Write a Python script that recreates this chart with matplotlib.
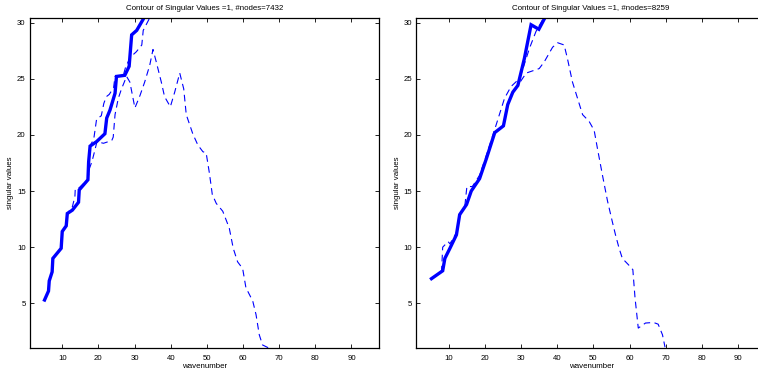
import matplotlib
matplotlib.use('Agg')
import matplotlib.pyplot as plt

plt.rcParams['font.family'] = ['Liberation Sans', 'DejaVu Sans']

#---------------------- data -------------------------#

titles = ['Contour of Singular Values =1, #nodes=7432',
          'Contour of Singular Values =1, #nodes=8259']
x_ticks = [10, 20, 30, 40, 50, 60, 70, 80, 90]
y_ticks = [5, 10, 15, 20, 25, 30]

# left panel (7432 nodes)
left_solid_x = [5.1, 6.2, 6.4, 7.2, 7.4, 9.7, 10.0, 11.1, 11.4, 12.8, 14.5, 14.7, 17.1,
                17.3, 17.7, 19.5, 21.8, 22.3, 23.2, 24.6, 25.0, 27.3, 28.5, 29.2, 30.6,
                32.4, 33.0]
left_solid_y = [5.3, 6.1, 7.0, 7.8, 9.0, 9.9, 11.4, 11.9, 13.0, 13.3, 14.0, 15.1, 16.0,
                17.6, 19.0, 19.4, 20.1, 21.5, 22.2, 23.7, 25.2, 25.3, 26.1, 28.9, 29.3,
                30.3, 30.8]

left_dash_a_x = [5.1, 6.2, 6.4, 7.2, 7.4, 9.7, 10.0, 11.1, 11.4, 12.8, 13.5, 13.6, 14.7,
                 17.0, 17.3, 17.8, 18.7, 19.5, 20.8, 21.5, 22.2, 23.0, 24.2, 24.6, 26.8,
                 27.5, 28.8, 30.5, 32.0, 32.4, 34.5]
left_dash_a_y = [5.3, 6.1, 7.0, 7.8, 9.0, 9.9, 11.4, 11.9, 13.0, 13.6, 14.5, 15.2, 15.3,
                 16.0, 17.6, 19.1, 19.6, 21.4, 21.7, 22.8, 23.4, 23.6, 24.2, 25.2, 25.2,
                 26.0, 26.9, 27.4, 28.0, 29.3, 30.6]

left_dash_b_x = [5.1, 6.2, 6.4, 7.2, 7.4, 9.7, 10.0, 11.1, 11.4, 12.8, 14.5, 14.7, 17.1,
                 17.5, 18.2, 19.0, 19.6, 21.4, 23.7, 24.1, 24.6, 25.5, 26.4, 27.8, 28.7,
                 30.1, 31.5, 32.8, 34.2, 35.1, 36.0, 37.4, 38.3, 39.9, 41.1, 42.5, 43.6,
                 44.3, 46.1, 47.5, 48.9, 49.8, 50.7, 51.5, 52.6, 54.4, 56.2, 57.3, 58.5,
                 59.9, 60.8, 62.7, 63.6, 64.5, 65.4, 67.3]
left_dash_b_y = [5.3, 6.1, 7.0, 7.8, 9.0, 9.9, 11.4, 11.9, 13.0, 13.3, 14.0, 15.1, 16.0,
                 17.0, 17.6, 18.6, 19.4, 19.25, 19.5, 19.8, 21.8, 23.25, 24.1, 25.2, 24.7,
                 22.4, 23.5, 24.7, 26.2, 27.6, 26.5, 24.7, 23.4, 22.5, 23.8, 25.5, 24.1,
                 21.8, 20.1, 19.1, 18.5, 18.4, 16.6, 14.7, 13.9, 13.2, 11.7, 9.9, 8.7,
                 8.1, 6.4, 5.2, 4.0, 2.2, 1.3, 1.0]

# right panel (8259 nodes)
right_solid_x = [5.2, 8.3, 8.9, 10.3, 12.1, 13.0, 14.9, 16.2, 18.5, 20.4, 22.7, 25.1,
                 26.3, 27.7, 29.1, 30.9, 32.75, 34.9, 36.7]
right_solid_y = [7.2, 7.9, 9.0, 9.9, 11.1, 12.9, 13.8, 15.0, 16.1, 17.9, 20.2, 20.8,
                 22.7, 23.8, 24.4, 26.8, 29.8, 29.4, 30.5]

right_dash_a_x = [5.2, 8.0, 8.3, 9.8, 10.3, 12.1, 13.0, 14.4, 15.0, 16.5, 18.5, 20.4,
                  23.1, 25.4, 27.2, 29.5, 30.5, 32.3, 34.1, 36.4]
right_dash_a_y = [7.2, 7.9, 10.0, 10.5, 10.3, 11.3, 12.9, 13.6, 15.4, 15.4, 16.4, 18.2,
                  20.9, 23.25, 24.3, 25.0, 25.9, 27.7, 29.2, 30.5]

right_dash_c_x = [5.2, 8.3, 8.9, 10.3, 12.1, 13.0, 14.9, 16.2, 18.5, 20.4, 22.7, 25.1,
                  26.3, 27.7, 29.1, 31.4, 35.0, 36.4, 38.7, 40.1, 41.9, 42.8, 44.2, 45.6,
                  47.0, 48.8, 50.2, 51.1, 52.5, 53.9, 55.2, 56.1, 57.1, 58.0, 59.8, 60.9,
                  61.5, 62.4, 64.4, 66.6, 67.9, 69.1, 69.8]
right_dash_c_y = [7.2, 7.9, 9.0, 9.9, 11.1, 12.9, 13.8, 15.0, 16.1, 17.9, 20.2, 20.8,
                  22.7, 23.8, 24.4, 25.5, 25.9, 26.5, 27.8, 28.2, 28.0, 26.8, 24.7, 23.25,
                  21.8, 21.2, 20.4, 18.8, 16.4, 14.1, 12.3, 11.1, 9.9, 9.0, 8.4, 8.0,
                  5.5, 2.8, 3.25, 3.3, 3.15, 2.2, 1.1]

panels = [
    (left_solid_x, left_solid_y,
     [(left_dash_a_x, left_dash_a_y), (left_dash_b_x, left_dash_b_y)]),
    (right_solid_x, right_solid_y,
     [(right_dash_a_x, right_dash_a_y), (right_dash_c_x, right_dash_c_y)]),
]

#---------------------- figure -----------------------#

fig = plt.figure(figsize=(7.58, 3.77), dpi=100)
positions = [[0.0392, 0.0761, 0.4612, 0.8761],
             [0.5492, 0.0761, 0.4612, 0.8761]]

for pos, title, (sx, sy, dashed) in zip(positions, titles, panels):
    ax = fig.add_axes(pos)
    for dx, dy in dashed:
        ax.plot(dx, dy, color='blue', lw=0.8, linestyle=(0, (6, 4)))
    ax.plot(sx, sy, color='blue', lw=2.4, solid_joinstyle='miter')

    ax.set_xlim(1.0, 97.7)
    ax.set_ylim(1.0, 30.4)
    ax.set_xticks(x_ticks)
    ax.set_yticks(y_ticks)
    ax.tick_params(direction='in', length=3, width=0.6, labelsize=5.6,
                   top=True, right=True, pad=3)
    ax.tick_params(axis='x', pad=4.5)
    for sp in ax.spines.values():
        sp.set_linewidth(0.9)

    ax.set_title(title, fontsize=5.7, pad=6)
    ax.set_xlabel('wavenumber', fontsize=5.7, labelpad=1)
    ax.set_ylabel('singular values', fontsize=5.7, labelpad=2)

fig.savefig('out.png', dpi=100)
